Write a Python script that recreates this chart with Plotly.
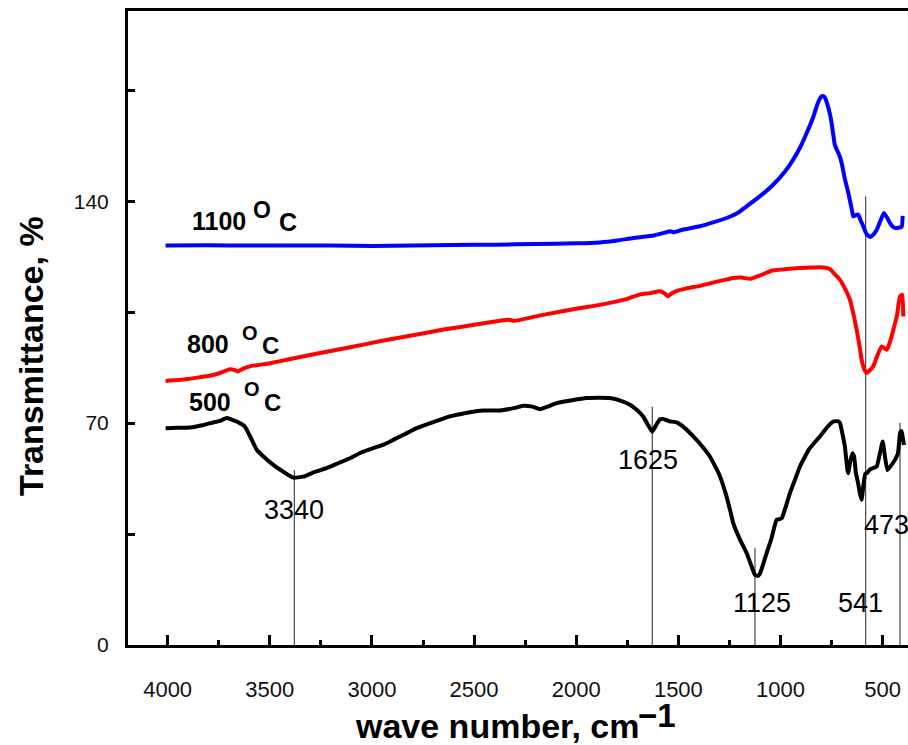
import plotly.graph_objects as go

# ---------------- data ----------------
wn_500 = [4010, 3950, 3891, 3830, 3777, 3740, 3711, 3690, 3662, 3622, 3590, 3564, 3520, 3483, 3430,
          3385, 3336, 3280, 3222, 3160, 3108, 3050, 2994, 2940, 2896, 2840, 2781, 2700, 2618, 2540,
          2455, 2373, 2300, 2259, 2215, 2177, 2140, 2096, 2020, 1949, 1880, 1835, 1780, 1737, 1700,
          1672, 1645, 1628, 1610, 1590, 1574, 1545, 1508, 1470, 1427, 1385, 1345, 1300, 1264, 1245,
          1231, 1200, 1166, 1140, 1125, 1110, 1100, 1085, 1068, 1045, 1019, 1005, 994, 975, 954, 930,
          905, 860, 807, 770, 742, 720, 709, 695, 685, 672, 668, 660, 648, 640, 631,
          620, 612, 603, 595, 585, 578, 560, 540, 529, 515, 500, 490, 477, 460, 440,
          425, 415, 408, 396]
T_500 = [68.4, 68.5, 68.6, 69.3, 70.2, 70.8, 71.6, 71.2, 70.5, 68.9, 65.0, 61.6, 58.8, 56.8, 54.5,
         52.8, 53.1, 54.6, 55.8, 57.5, 58.9, 60.8, 62.1, 63.3, 64.7, 66.5, 68.4, 70.3, 72.1, 73.2,
         74.0, 74.0, 74.8, 75.5, 75.2, 74.4, 75.2, 76.3, 77.2, 77.9, 78.0, 77.9, 77.0, 75.8, 74.0,
         72.1, 69.0, 67.3, 69.2, 71.2, 71.3, 70.6, 70.2, 68.5, 65.8, 62.8, 59.4, 53.8, 46.8, 42.0,
         38.4, 33.5, 29.0, 24.5, 22.1, 21.8, 22.6, 25.5, 29.0, 33.5, 39.5, 39.7, 40.0, 43.5, 47.9, 52.0,
         56.3, 61.8, 65.8, 68.8, 70.5, 70.6, 70.0, 66.0, 62.6, 55.0, 54.2, 57.5, 60.5, 59.5, 54.2,
         51.0, 48.0, 45.8, 50.0, 54.0, 54.2, 55.5, 56.0, 56.3, 60.0, 64.2, 60.0, 55.2, 56.5, 58.4,
         60.5, 66.8, 67.5, 63.1]

wn_800 = [4010, 3900, 3842, 3790, 3744, 3695, 3675, 3656, 3630, 3597, 3499, 3400, 3254, 3100, 2950,
          2800, 2650, 2500, 2373, 2330, 2300, 2150, 2000, 1884, 1750, 1687, 1638, 1590, 1565, 1551,
          1535, 1516, 1460, 1394, 1300, 1231, 1190, 1150, 1100, 1036, 970, 905, 850, 807, 780,
          758, 735, 709, 685, 660, 640, 627, 610, 603, 590, 578, 565, 546, 525, 505,
          495, 480, 465, 448, 430, 415, 404, 399]
T_800 = [83.3, 83.9, 84.5, 85.0, 85.8, 87.0, 86.8, 86.3, 87.2, 87.9, 88.9, 90.2, 92.1, 94.0, 96.0,
         97.7, 99.5, 101.0, 102.3, 102.6, 102.3, 104.3, 106.1, 107.3, 109.2, 110.6, 111.0, 111.6, 110.8, 110.0,
         110.8, 111.5, 112.5, 113.3, 114.8, 115.8, 115.9, 115.5, 116.6, 118.2, 118.6, 118.9, 119.1, 119.2, 119.0,
         118.6, 117.0, 115.2, 112.5, 108.9, 103.5, 99.4, 93.0, 90.0, 87.0, 85.8, 86.5, 87.9, 91.5, 94.2,
         93.8, 93.1, 95.5, 99.4, 104.0, 110.0, 110.5, 103.6]

wn_1100 = [4010, 3800, 3600, 3400, 3200, 3000, 2800, 2600, 2400, 2200, 2000, 1884, 1800, 1721, 1620,
           1560, 1541, 1520, 1480, 1394, 1330, 1264, 1210, 1166, 1100, 1036, 980, 938, 900, 872,
           840, 823, 812, 803, 795, 787, 779, 771, 760, 750, 735, 725, 712, 701, 685, 668, 650,
           644, 632, 620, 608, 595, 580, 562, 545, 529, 510, 494, 478, 464, 448, 432,
           420, 407, 402]
T_1100 = [126.0, 126.1, 126.0, 126.0, 126.0, 125.9, 126.0, 126.2, 126.3, 126.5, 126.7, 127.0, 127.6, 128.4, 129.2,
          130.2, 130.5, 130.2, 131.0, 132.1, 133.3, 134.7, 136.3, 138.4, 141.6, 145.2, 149.2, 153.1, 157.5, 161.5,
          166.5, 169.9, 171.8, 172.8, 173.2, 173.0, 172.2, 170.6, 168.0, 164.7, 158.0, 156.3, 154.5, 152.1, 147.0, 142.6, 137.0,
          135.2, 135.6, 135.8, 134.0, 132.1, 129.8, 128.7, 129.5, 131.0, 134.0, 136.3, 134.8, 133.1, 131.8, 131.5,
          131.7, 131.9, 135.4]

# peak marker lines (axis position, top of line) and their labels
peak_x = [3380, 1628, 1125, 583, 415]
peak_top = [55.2, 75.2, 30.6, 141.5, 70.1]
peak_labels = ["3340", "1625", "1125", "541", "473"]

x_tickvals = [4000, 3500, 3000, 2500, 2000, 1500, 1000, 500]
y_tickvals = [0, 70, 140]

# ---------------- layout geometry ----------------
W, H = 908, 745
ML, MR, MT, MB = 128, 0, 11, 100
PW, PH = W - ML - MR, H - MT - MB
FONT = "Liberation Sans, Arial, sans-serif"


def px_ann(text, px, py, size, bold=False, xanchor="center", angle=0, color="#000"):
    t = f"<b>{text}</b>" if bold else text
    return dict(text=t, x=(px - ML) / PW, y=(MT + PH - py) / PH, xref="paper", yref="paper",
                xanchor=xanchor, yanchor="middle", showarrow=False, textangle=angle,
                font=dict(family=FONT, size=size, color=color))


fig = go.Figure()
fig.add_trace(go.Scatter(x=wn_500, y=T_500, mode="lines", line=dict(color="#000000", width=4),
                         line_shape="spline", line_smoothing=0.4, showlegend=False))
fig.add_trace(go.Scatter(x=wn_800, y=T_800, mode="lines", line=dict(color="#FF0000", width=4),
                         line_shape="spline", line_smoothing=0.4, showlegend=False))
fig.add_trace(go.Scatter(x=wn_1100, y=T_1100, mode="lines", line=dict(color="#0000FF", width=4),
                         line_shape="spline", line_smoothing=0.4, showlegend=False))

shapes = []
for xv, top in zip(peak_x, peak_top):
    shapes.append(dict(type="line", xref="x", yref="y", x0=xv, x1=xv, y0=0, y1=top,
                       line=dict(color="#222222", width=1), layer="below"))

anns = []
# peak labels (pixel centres)
peak_label_px = [(294, 510), (648, 460), (762, 603), (860, 603), (886, 525)]
for lab, (px, py) in zip(peak_labels, peak_label_px):
    anns.append(px_ann(lab, px, py, 27))

# temperature labels
anns += [
    px_ann("1100", 190, 221, 25, bold=True, xanchor="left"),
    px_ann("O", 262, 210, 23, bold=True),
    px_ann("C", 288, 222, 25, bold=True),
    px_ann("800", 185, 344, 25, bold=True, xanchor="left"),
    px_ann("O", 250, 333, 20, bold=True),
    px_ann("C", 270, 345, 24, bold=True),
    px_ann("500", 187, 402, 25, bold=True, xanchor="left"),
    px_ann("O", 252, 389, 20, bold=True),
    px_ann("C", 272, 403, 24, bold=True),
]

# axis titles
anns.append(px_ann("Transmittance, %", 31, 356, 34, bold=True, angle=-90))
anns.append(px_ann("wave number, cm", 641, 726, 34, bold=True, xanchor="right"))
anns.append(px_ann("\u22121", 636, 715, 33, bold=True, xanchor="left"))

fig.update_layout(
    width=W, height=H,
    margin=dict(l=ML, r=MR, t=MT, b=MB, pad=0),
    paper_bgcolor="white", plot_bgcolor="white",
    shapes=shapes, annotations=anns,
    xaxis=dict(range=[4194, 376], tickvals=x_tickvals, ticks="inside", ticklen=10, tickwidth=3,
               tickcolor="#000", showline=True, linewidth=3, linecolor="#000", mirror=True,
               showgrid=False, zeroline=False, ticklabelstandoff=23,
               tickfont=dict(family=FONT, size=22, color="#111"),
               minor=dict(ticks="inside", ticklen=5, tickwidth=3, tickcolor="#000",
                          dtick=250, tick0=0, showgrid=False)),
    yaxis=dict(range=[0, 200], tickvals=y_tickvals, ticks="inside", ticklen=7, tickwidth=3,
               tickcolor="#000", showline=True, linewidth=3, linecolor="#000", mirror=False,
               showgrid=False, zeroline=False, ticklabelstandoff=12,
               tickfont=dict(family=FONT, size=21, color="#111"),
               minor=dict(ticks="inside", ticklen=7, tickwidth=3, tickcolor="#000",
                          dtick=35, tick0=0, showgrid=False)),
)

fig.write_html("out.html")
